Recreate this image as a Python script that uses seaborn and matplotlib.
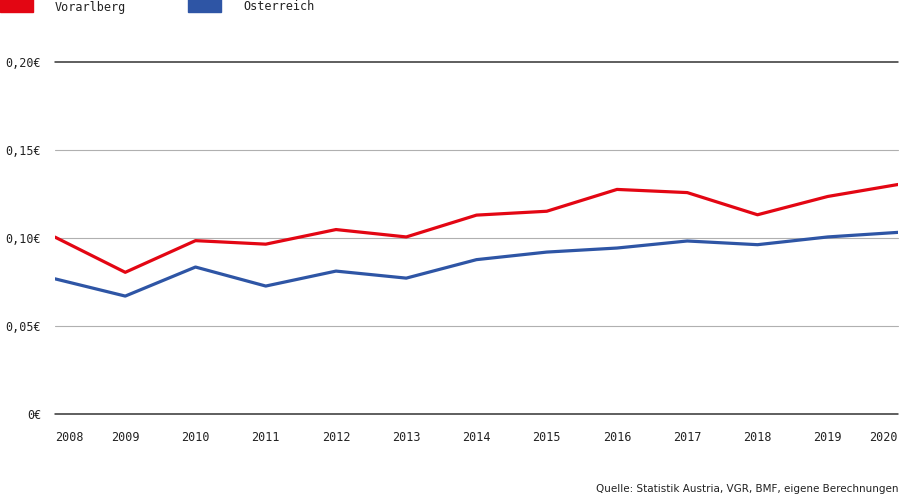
import matplotlib
matplotlib.use("Agg")
import matplotlib.pyplot as plt
from matplotlib.patches import Rectangle
import seaborn as sns
import pandas as pd

years = list(range(2008, 2021))
vorarlberg = [0.1005, 0.0805, 0.0985, 0.0965, 0.1048, 0.1006, 0.1130, 0.1152, 0.1276, 0.1258, 0.1132, 0.1236, 0.1304]
oesterreich = [0.0768, 0.0670, 0.0835, 0.0727, 0.0812, 0.0772, 0.0877, 0.0920, 0.0943, 0.0983, 0.0962, 0.1006, 0.1032]
series_names = ["Vorarlberg", "Österreich"]
colors = ["#e30613", "#2e55a5"]
yticks = [0, 0.05, 0.10, 0.15, 0.20]
ytick_labels = ["0€", "0,05€", "0,10€", "0,15€", "0,20€"]
source = "Quelle: Statistik Austria, VGR, BMF, eigene Berechnungen"

df = pd.DataFrame({
    "Jahr": years * 2,
    "Wert": vorarlberg + oesterreich,
    "Region": [series_names[0]] * len(years) + [series_names[1]] * len(years),
})

sns.set_style("white")
mono = ["DejaVu Sans Mono"]
fig = plt.figure(figsize=(9, 4.96), dpi=100)
ax = fig.add_axes([55 / 900, 1 - 414 / 496, 843 / 900, 352 / 496])

sns.lineplot(data=df, x="Jahr", y="Wert", hue="Region", palette=colors,
             linewidth=2.3, ax=ax, legend=False, zorder=3)

ax.set_xlim(years[0], years[-1])
ax.set_ylim(0, 0.2)
for s in ax.spines.values():
    s.set_visible(False)
for v in yticks:
    dark = v in (0, 0.2)
    ax.axhline(v, color="#333333" if dark else "#b0b0b0",
               lw=1.1 if dark else 0.8, zorder=1, clip_on=False)

ax.set_yticks(yticks)
ax.set_yticklabels(ytick_labels, family=mono, fontsize=8.5, color="#222222")
ax.set_xticks(years)
ax.set_xticklabels([str(y) for y in years], family=mono, fontsize=8.5, color="#222222")
lbls = ax.get_xticklabels()
lbls[0].set_ha("left")
lbls[-1].set_ha("right")
ax.tick_params(axis="y", length=0, pad=10)
ax.tick_params(axis="x", length=0, pad=12)
ax.set_xlabel("")
ax.set_ylabel("")

# legend
for x0, col, name in [(0, colors[0], series_names[0]), (188, colors[1], series_names[1])]:
    fig.patches.append(Rectangle((x0 / 900, 1 - 12 / 496), 33 / 900, 14 / 496,
                                 transform=fig.transFigure, color=col))
    fig.text((x0 + 55) / 900, 1 - 7 / 496, name, family=mono, fontsize=8.5,
             va="center", ha="left", color="#222222")

fig.text(898 / 900, 1 - 489 / 496, source, family=["Liberation Sans Narrow", "DejaVu Sans"],
         fontsize=7.5, ha="right", va="center", color="#222222")

fig.savefig("out.png", dpi=100)
